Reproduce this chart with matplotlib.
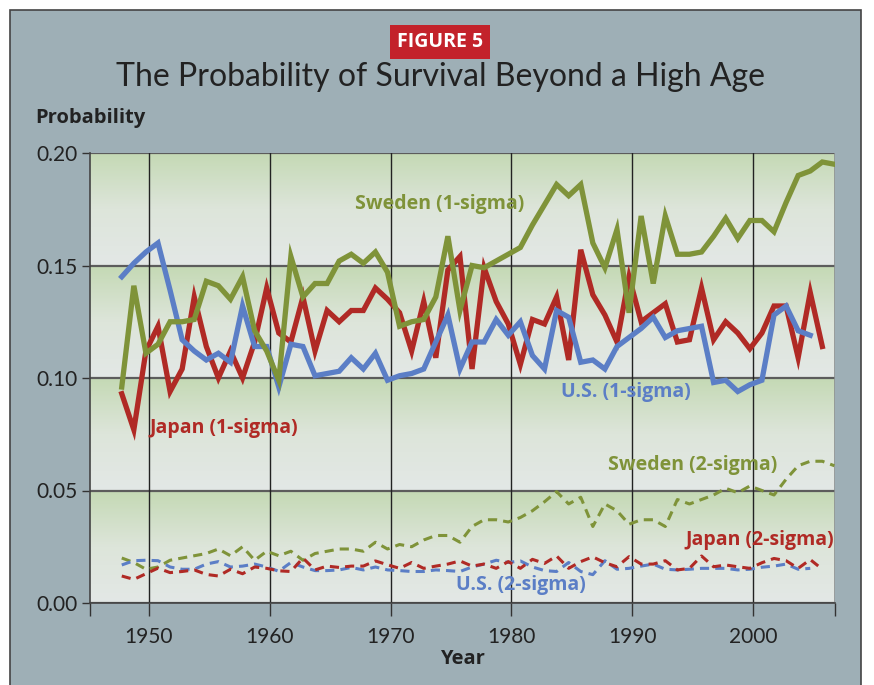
import numpy as np
import matplotlib
matplotlib.use("Agg")
import matplotlib.pyplot as plt
from matplotlib.colors import LinearSegmentedColormap
from matplotlib.patches import Rectangle

# ---- data ----
sweden_years = np.arange(1947, 2007)
japan_years = np.arange(1947, 2006)
us_years = np.arange(1947, 2005)

sweden_1s = [0.096, 0.141, 0.111, 0.115, 0.125, 0.125, 0.126, 0.143, 0.141, 0.135,
             0.145, 0.121, 0.112, 0.099, 0.154, 0.136, 0.142, 0.142, 0.152, 0.155,
             0.151, 0.156, 0.147, 0.123, 0.125, 0.126, 0.136, 0.163, 0.130, 0.150,
             0.149, 0.152, 0.155, 0.158, 0.168, 0.177, 0.186, 0.181, 0.186, 0.160,
             0.149, 0.166, 0.129, 0.172, 0.142, 0.172, 0.155, 0.155, 0.156, 0.163,
             0.171, 0.162, 0.170, 0.170, 0.165, 0.178, 0.190, 0.192, 0.196, 0.195]

japan_1s = [0.093, 0.077, 0.112, 0.123, 0.094, 0.104, 0.136, 0.114, 0.100, 0.112,
            0.100, 0.116, 0.140, 0.120, 0.116, 0.136, 0.112, 0.130, 0.125, 0.130,
            0.130, 0.140, 0.135, 0.129, 0.112, 0.134, 0.109, 0.148, 0.154, 0.104,
            0.149, 0.134, 0.124, 0.106, 0.126, 0.124, 0.136, 0.108, 0.157, 0.137,
            0.128, 0.116, 0.145, 0.125, 0.129, 0.133, 0.116, 0.117, 0.140, 0.117,
            0.125, 0.120, 0.113, 0.120, 0.132, 0.132, 0.109, 0.138, 0.114]

us_1s = [0.145, 0.151, 0.156, 0.160, 0.139, 0.117, 0.112, 0.108, 0.111, 0.107,
         0.132, 0.114, 0.114, 0.096, 0.115, 0.114, 0.101, 0.102, 0.103, 0.109,
         0.104, 0.111, 0.099, 0.101, 0.102, 0.104, 0.116, 0.128, 0.104, 0.116,
         0.116, 0.126, 0.119, 0.125, 0.110, 0.104, 0.130, 0.127, 0.107, 0.108,
         0.104, 0.114, 0.118, 0.122, 0.127, 0.118, 0.121, 0.122, 0.123, 0.098,
         0.099, 0.094, 0.097, 0.099, 0.128, 0.132, 0.121, 0.119]

sweden_2s = [0.020, 0.018, 0.015, 0.016, 0.019, 0.020, 0.021, 0.022, 0.024, 0.021,
             0.025, 0.019, 0.023, 0.021, 0.023, 0.019, 0.022, 0.023, 0.024, 0.024,
             0.023, 0.027, 0.024, 0.026, 0.025, 0.028, 0.030, 0.030, 0.027, 0.034,
             0.037, 0.037, 0.036, 0.038, 0.041, 0.045, 0.0495, 0.044, 0.047, 0.034,
             0.044, 0.041, 0.035, 0.037, 0.037, 0.034, 0.046, 0.044, 0.046, 0.048,
             0.051, 0.049, 0.052, 0.050, 0.048, 0.055, 0.061, 0.063, 0.063, 0.061]

japan_2s = [0.012, 0.0105, 0.013, 0.0155, 0.0135, 0.014, 0.0147, 0.0127, 0.012, 0.015,
            0.013, 0.016, 0.0154, 0.0143, 0.014, 0.020, 0.0147, 0.0164, 0.0158, 0.0164,
            0.0164, 0.0187, 0.017, 0.0154, 0.018, 0.0154, 0.0164, 0.0173, 0.0187, 0.0164,
            0.0173, 0.0154, 0.0184, 0.0154, 0.0194, 0.0176, 0.0209, 0.0154, 0.0184, 0.0205,
            0.0179, 0.0161, 0.0206, 0.0173, 0.0173, 0.0188, 0.0147, 0.0154, 0.0209, 0.0161,
            0.0169, 0.0161, 0.0154, 0.0179, 0.0198, 0.0188, 0.0154, 0.0193, 0.015]

us_2s = [0.0169, 0.0188, 0.019, 0.0188, 0.016, 0.015, 0.015, 0.0173, 0.0184, 0.016,
         0.0164, 0.0173, 0.016, 0.0141, 0.018, 0.016, 0.0144, 0.0144, 0.0147, 0.0158,
         0.0147, 0.016, 0.0147, 0.0144, 0.014, 0.014, 0.0147, 0.0144, 0.014, 0.016,
         0.0173, 0.019, 0.018, 0.0187, 0.016, 0.0144, 0.014, 0.018, 0.014, 0.0126,
         0.0188, 0.015, 0.0154, 0.0164, 0.0173, 0.015, 0.0147, 0.015, 0.0154, 0.0154,
         0.0154, 0.0147, 0.015, 0.0159, 0.0164, 0.0173, 0.015, 0.0154]

x_ticks = [1950, 1960, 1970, 1980, 1990, 2000]
y_ticks = [0.00, 0.05, 0.10, 0.15, 0.20]

# colours
GREEN = "#7f9339"
RED = "#b02a25"
BLUE = "#5b7ec6"
PANEL = "#9eafb6"

# values are plotted at mid-year
MID = 0.75

fig = plt.figure(figsize=(8.74, 6.85), dpi=100, facecolor="white")
fig.patches.append(Rectangle((10 / 874, -0.01), 851 / 874, 675 / 685 + 0.01,
                             transform=fig.transFigure, facecolor=PANEL,
                             edgecolor="#444444", linewidth=1.2, zorder=-10))

ax = fig.add_axes([90 / 874, 1 - 603 / 685, 745 / 874, 450 / 685])
ax.patch.set_alpha(0)
x0, x1 = 1945.12, 2006.8
ax.set_xlim(x0, x1)
ax.set_ylim(0, 0.2)

# banded gradient background
band_cmap = LinearSegmentedColormap.from_list("band", ["#e3e8e6", "#dde5da", "#c4d9b4"])
grad = np.linspace(0, 1, 256).reshape(-1, 1)
for lo in y_ticks[:-1]:
    ax.imshow(grad, cmap=band_cmap, origin="lower", aspect="auto",
              extent=[x0, x1, lo, lo + 0.05], zorder=0)

for yv in y_ticks:
    ax.axhline(yv, color="#5c5c5c", lw=1.6, zorder=1)
for xv in x_ticks:
    ax.axvline(xv, color="#222222", lw=1.0, zorder=1)
ax.axvline(x1, color="#8a8f90", lw=1.2, zorder=1)

# 2-sigma lines (dashed)
ax.plot(sweden_years + MID, sweden_2s, color=GREEN, lw=2.2, ls=(0, (3, 2)), zorder=3)
ax.plot(us_years + MID, us_2s, color=BLUE, lw=2.2, ls=(0, (3, 2)), zorder=3)
ax.plot(japan_years + MID, japan_2s, color=RED, lw=2.2, ls=(0, (3, 2)), zorder=3)

# 1-sigma lines (solid)
ax.plot(japan_years + MID, japan_1s, color=RED, lw=3.8, zorder=4, solid_joinstyle="miter")
ax.plot(us_years + MID, us_1s, color=BLUE, lw=3.8, zorder=5, solid_joinstyle="miter")
ax.plot(sweden_years + MID, sweden_1s, color=GREEN, lw=3.8, zorder=6, solid_joinstyle="miter")

lab = dict(fontsize=14, fontweight="bold", family="Open Sans", zorder=7)
ax.text(1974.1, 0.1773, "Sweden (1-sigma)", color=GREEN, ha="center", va="center", **lab)
ax.text(1956.2, 0.0778, "Japan (1-sigma)", color=RED, ha="center", va="center", **lab)
ax.text(1989.5, 0.0938, "U.S. (1-sigma)", color=BLUE, ha="center", va="center", **lab)
ax.text(1995.0, 0.0613, "Sweden (2-sigma)", color=GREEN, ha="center", va="center", **lab)
ax.text(2000.6, 0.0280, "Japan (2-sigma)", color=RED, ha="center", va="center",
        clip_on=False, **lab)
ax.text(1980.8, 0.0080, "U.S. (2-sigma)", color=BLUE, ha="center", va="center", **lab)

for side in ["top", "right"]:
    ax.spines[side].set_visible(False)
ax.spines["left"].set_color("#444444")
ax.spines["bottom"].set_color("#444444")
ax.spines["left"].set_linewidth(1.2)
ax.spines["bottom"].set_linewidth(1.2)

ax.set_xticks([x0] + x_ticks + [x1])
ax.set_xticklabels([""] + [str(v) for v in x_ticks] + [""])
ax.set_yticks(y_ticks)
ax.set_yticklabels([f"{v:.2f}" for v in y_ticks])
ax.tick_params(axis="x", length=9, width=1, color="#333333", pad=8,
               labelsize=15, labelcolor="#222222")
ax.tick_params(axis="y", length=6, width=1, color="#333333", pad=3,
               labelsize=15, labelcolor="#222222")
for t in ax.get_xticklabels() + ax.get_yticklabels():
    t.set_family("Lato")

ax.set_xlabel("Year", fontsize=14.5, fontweight="bold", family="Open Sans",
              color="#222222", labelpad=2)

fig.text(35 / 874, 1 - 118 / 685, "Probability", fontsize=14.5, fontweight="bold",
         family="Open Sans", color="#222222", va="center", ha="left")
fig.text(441 / 874, 1 - 77 / 685, "The Probability of Survival Beyond a High Age",
         fontsize=23, family="Lato", color="#222222",
         ha="center", va="center")
fig.text(440 / 874, 1 - 42 / 685, "FIGURE 5", fontsize=14, fontweight="bold",
         family="Open Sans", color="white", ha="center", va="center",
         bbox=dict(boxstyle="square,pad=0.35", facecolor="#c3222b", edgecolor="none"))

fig.savefig("out.png", dpi=100, facecolor="white")
